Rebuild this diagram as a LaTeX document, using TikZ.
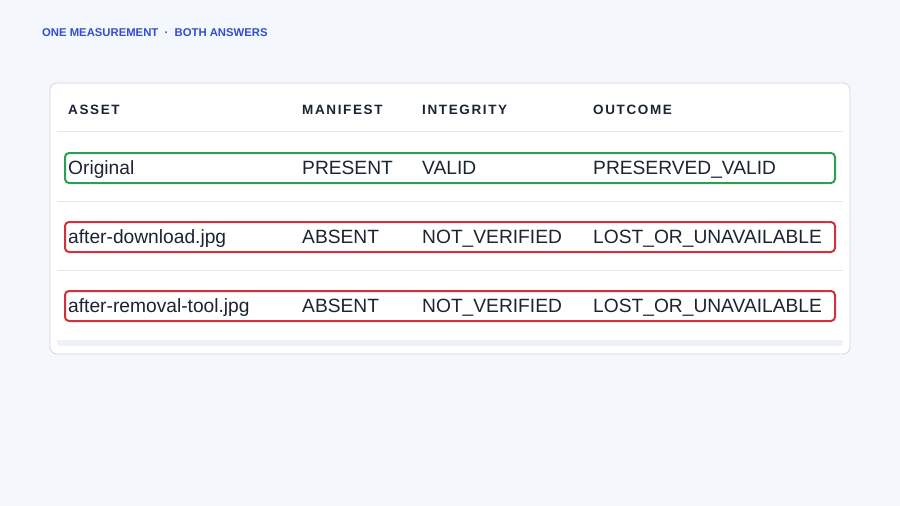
\documentclass[tikz,border=0pt]{standalone}
\usepackage{fontspec}
\setmainfont{Liberation Sans}
\definecolor{bg}{HTML}{F4F7FB}
\definecolor{ink}{HTML}{1B2433}
\definecolor{blu}{HTML}{2F4FD0}
\definecolor{grn}{HTML}{2E9E55}
\definecolor{rd}{HTML}{D0313A}
\definecolor{ln}{HTML}{E3E7EE}
\begin{document}
\begin{tikzpicture}[x=1pt,y=-1pt,
  hd/.style={anchor=base west,font=\bfseries\fontsize{13.5}{15}\selectfont\addfontfeatures{LetterSpace=12},text=ink,inner sep=0},
  cell/.style={anchor=base west,font=\fontsize{19.2}{24}\selectfont,text=ink,inner sep=0},
  box/.style={draw=#1,line width=2pt,rounded corners=4pt}]
\fill[bg] (0,0) rectangle (900,506);
\useasboundingbox (0,0) rectangle (900,506);
\node[anchor=base west,inner sep=0,text=blu,font=\bfseries\fontsize{11.3}{13}\selectfont] (t) at (42,36) {ONE MEASUREMENT~~·~~BOTH ANSWERS};
\draw[ln!80!gray!90,fill=white,rounded corners=7pt,line width=0.8pt] (50,83) rectangle (850,354);
\fill[ln!60] (57,340) rectangle (843,346);
\foreach \y in {131,201,270} \draw[ln,line width=1pt] (57,\y) -- (843,\y);
\node[hd] (h1) at (68,114) {ASSET};
\node[hd] (h2) at (302,114) {MANIFEST};
\node[hd] (h3) at (422,114) {INTEGRITY};
\node[hd] (h4) at (593,114) {OUTCOME};
\draw[box=grn] (65,153) rectangle (835,183);
\draw[box=rd] (65,222) rectangle (835,252);
\draw[box=rd] (65,291) rectangle (835,321);
\node[cell] (a1) at (68,174.5) {Original};
\node[cell] (b1) at (302,174.5) {PRESENT};
\node[cell] (c1) at (422,174.5) {VALID};
\node[cell] (d1) at (593,174.5) {PRESERVED\_VALID};
\node[cell] (a2) at (68,243.5) {after-download.jpg};
\node[cell] (b2) at (302,243.5) {ABSENT};
\node[cell] (c2) at (422,243.5) {NOT\_VERIFIED};
\node[cell] (d2) at (593,243.5) {LOST\_OR\_UNAVAILABLE};
\node[cell] (a3) at (68,312.5) {after-removal-tool.jpg};
\node[cell] (b3) at (302,312.5) {ABSENT};
\node[cell] (c3) at (422,312.5) {NOT\_VERIFIED};
\node[cell] (d3) at (593,312.5) {LOST\_OR\_UNAVAILABLE};
\end{tikzpicture}
\end{document}
